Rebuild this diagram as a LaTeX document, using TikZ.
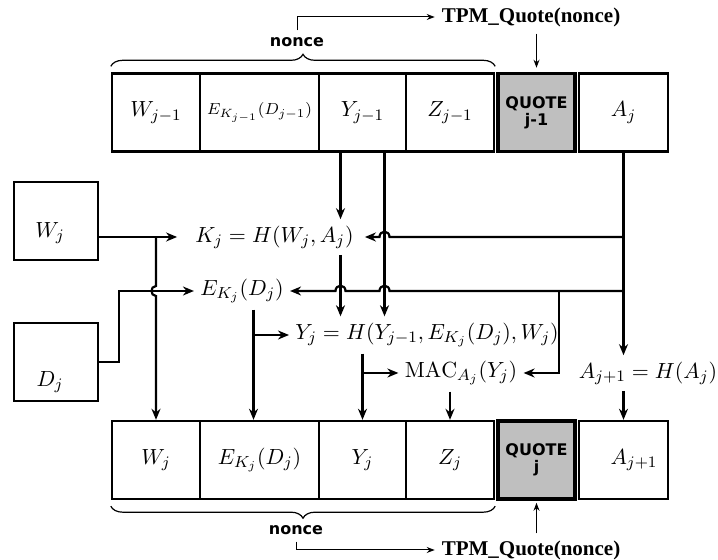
\documentclass[tikz,border=0pt]{standalone}
\usepackage{fontspec}
\setsansfont{DejaVu Sans}
\newfontfamily\tpmfont{Liberation Serif}
\usetikzlibrary{arrows.meta,decorations.pathreplacing}

\begin{document}
\begin{tikzpicture}[
x=0.5pt,y=-0.5pt,
every node/.style={font=\fontsize{10.95}{13}\selectfont},
cell/.style={draw,line width=1.2pt,minimum height=39pt,inner sep=0pt},
quotebox/.style={cell,fill=black!25,line width=1.8pt,align=center,font=\sffamily\bfseries\fontsize{8}{8.5}\selectfont},
formula/.style={inner xsep=3pt,inner ysep=3pt},
flow/.style={line width=1.1pt,-{Stealth[length=5.5pt,width=4.5pt]}},
thinarrow/.style={line width=0.5pt,-{Stealth[length=4pt,width=3pt]}},
bracket/.style={decorate,decoration={brace,amplitude=6pt},line width=0.6pt},
nonce/.style={font=\sffamily\bfseries\fontsize{8}{9}\selectfont},
tpm/.style={font=\tpmfont\bfseries\fontsize{10.5}{12}\selectfont}
]
\useasboundingbox (0,0) rectangle (718,560);

% record j-1
\node[cell,minimum width=44pt] (tw) at (156,112.5) {$W_{j-1}$};
\node[cell,minimum width=59.5pt,font=\footnotesize] (te) at (259.5,112.5) {$E_{K_{j-1}}(D_{j-1})$};
\node[cell,minimum width=43.5pt] (ty) at (362.5,112.5) {$Y_{j-1}$};
\node[cell,minimum width=44pt] (tz) at (450,112.5) {$Z_{j-1}$};
\node[quotebox,minimum width=38.5pt] (tq) at (536.5,112.5) {QUOTE\\j-1};
\node[cell,minimum width=44.5pt] (ta) at (623.5,112.5) {$A_j$};

% record j
\node[cell,minimum width=44pt] (bw) at (156,460) {$W_j$};
\node[cell,minimum width=59.5pt] (be) at (259.5,460) {$E_{K_j}(D_j)$};
\node[cell,minimum width=43.5pt] (by) at (362.5,460) {$Y_j$};
\node[cell,minimum width=44pt] (bz) at (450,460) {$Z_j$};
\node[quotebox,minimum width=38.5pt] (bq) at (536.5,460) {QUOTE\\j};
\node[cell,minimum width=44.5pt,text width=34pt,align=right] (ba) at (623.5,460) {$A_{j+1}$};

% inputs
\node[cell,minimum width=42pt] (wbox) at (56,221) {};
\node (wtxt) at (50,233) {$W_j$};
\node[cell,minimum width=42pt] (dbox) at (56,362) {};
\node (dtxt) at (50,382) {$D_j$};

% computations
\node[formula] (kf) at (274.5,237) {$K_j = H(W_j,A_j)$};
\node[formula] (ef) at (242,291) {$E_{K_j}(D_j)$};
\node[formula] (yf) at (427,335) {$Y_j = H(Y_{j-1},E_{K_j}(D_j),W_j)$};
\node[formula] (mf) at (461,373) {$\mathrm{MAC}_{A_j}(Y_j)$};
\node[formula] (af) at (648,373) {$A_{j+1} = H(A_j)$};

\coordinate (ya) at ([xshift=-11pt]ty.south);
\coordinate (yb) at ([xshift=11pt]ty.south);
\coordinate (ec) at ([xshift=-3pt]be.north);
\coordinate (br) at (559,0);

% W and D
\draw[flow,shorten >=6pt] (wbox.east |- kf.west) -- (kf.west);
\draw[flow] (bw.north |- kf.west) -- ([yshift=2.5pt]bw.north |- ef.west)
  .. controls +(-3pt,0) and +(-3pt,0) .. ([yshift=-2.5pt]bw.north |- ef.west) -- (bw.north);
\draw[flow] (dbox.east) -- ++(10pt,0) |- (ef.west);

% A_j
\draw[flow] (ta.south) -- (ta.south |- af.north);
\draw[flow] (ta.south |- af.south) -- (ba.north);
\draw[flow] (ta.south |- kf.east) -- ([xshift=2.5pt]yb |- kf.east)
  .. controls +(0,3.5pt) and +(0,3.5pt) .. ([xshift=-2.5pt]yb |- kf.east) -- ([xshift=2.5pt]kf.east);
\draw[flow] (ta.south |- ef.east) -- ([xshift=2.5pt]yb |- ef.east)
  .. controls +(0,3.5pt) and +(0,3.5pt) .. ([xshift=-2.5pt]yb |- ef.east)
  -- ([xshift=2.5pt]ya |- ef.east)
  .. controls +(0,3.5pt) and +(0,3.5pt) .. ([xshift=-2.5pt]ya |- ef.east) -- (ef.east);
\draw[flow] (br |- ef.east) |- (mf.east);

% Y_{j-1}
\draw[flow] (ya) -- (ya |- kf.north);
\draw[flow] (ya |- kf.south) -- (ya |- yf.north);
\draw[flow] (yb) -- (yb |- yf.north);

% down to record j
\draw[flow] (ec |- ef.south) -- (ec);
\draw[flow] (ec |- yf.west) -- (yf.west);
\draw[flow] (by.north |- yf.south) -- (by.north);
\draw[flow] (by.north |- mf.west) -- (mf.west);
\draw[flow] (bz.north |- mf.south) -- (bz.north);

% nonces and quotes
\draw[bracket] ([yshift=3pt]tw.north west) -- ([yshift=3pt]tz.north east);
\draw[bracket] ([yshift=-3pt]bz.south east) -- ([yshift=-3pt]bw.south west);
\node[nonce] (n1) at (297,42) {nonce};
\node[nonce] (n2) at (296,530) {nonce};
\node[tpm] (q1) at (531,17) {TPM\_Quote(nonce)};
\node[tpm] (q2) at (531,550) {TPM\_Quote(nonce)};
\draw[thinarrow] (n1.north) |- (q1.west);
\draw[thinarrow,shorten >=2pt] (q1.south -| tq.north) -- (tq.north);
\draw[thinarrow] (n2.south) |- (q2.west);
\draw[thinarrow,shorten >=1pt] (q2.north -| bq.south) -- (bq.south);
\end{tikzpicture}
\end{document}
